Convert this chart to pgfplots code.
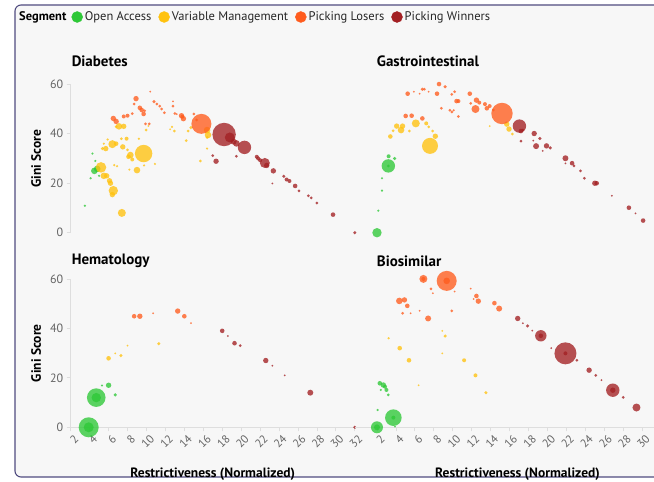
\documentclass[border=0pt]{standalone}
\usepackage{pgfplots}
\pgfplotsset{compat=1.18}
\usepackage{fontspec}
\setmainfont{PT Sans}
\definecolor{cOA}{RGB}{46,200,55}
\definecolor{cVM}{RGB}{255,194,14}
\definecolor{cPL}{RGB}{255,92,30}
\definecolor{cPW}{RGB}{163,32,35}
\definecolor{bgc}{RGB}{247,247,247}
\definecolor{framec}{RGB}{80,76,128}
\definecolor{axc}{RGB}{222,222,222}
\definecolor{tlc}{RGB}{100,100,100}
\pgfplotsset{
 bub/.style={scatter, only marks, mark=*, forget plot,
   scatter/use mapped color={draw=#1, fill=#1},
   fill opacity=0.78, draw opacity=0,
   visualization depends on={\thisrow{r}\as\rr},
   scatter/@pre marker code/.append style={/tikz/mark size=\rr}},
 panel/.style={scale only axis, height=148.4pt, ymin=0, ymax=60, clip=false,
   ytick={0,20,40,60}, tick align=outside, major tick length=4pt,
   axis line style={draw=axc, line width=0.8pt},
   every tick/.style={draw=axc, line width=0.8pt},
   ticklabel style={font=\fontsize{12}{14}\selectfont, text=tlc},
   /pgf/number format/assume math mode=true,
   title style={anchor=west, inner sep=0pt, font=\bfseries\fontsize{15}{18}\selectfont},
   xlabel={Restrictiveness (Normalized)}, ylabel={Gini Score},
   label style={font=\bfseries\fontsize{13.5}{16}\selectfont},
   xticklabel style={rotate=45, anchor=east, xshift=3.5pt, yshift=-8pt, font=\fontsize{11.5}{13}\selectfont},
   xtick={2,4,...,32}},
 leftp/.style={panel, width=284.1pt, xmin=2, xmax=32, axis y line*=left,
   ylabel style={at={(axis description cs:-0.122,0.5)}, anchor=center, rotate=0},
   xlabel style={at={(axis description cs:0.5,-0.318)}, anchor=center}},
 rightp/.style={panel, width=305.9pt, xmin=-0.3, xmax=32, hide y axis, xtick={2,4,...,30},
   xlabel style={at={(axis description cs:0.5306,-0.318)}, anchor=center}},
}
\begin{document}
\begin{tikzpicture}
\useasboundingbox (0,0) rectangle (654pt,482pt);
\fill[white] (0,0) rectangle (654pt,482pt);
\draw[framec, line width=1.1pt, fill=bgc, rounded corners=6pt] (15pt,5pt) rectangle (700pt,477pt);
\node[anchor=west, inner sep=0pt, font=\bfseries\fontsize{12.5}{15}\selectfont] at (19pt,465pt) {Segment};

% ---------------- Diabetes ----------------
\begin{axis}[leftp, hide x axis, at={(70.7pt,249.3pt)}, anchor=south west,
  title={Diabetes}, title style={at={(axis description cs:0.003,1.113)}},
  legend columns=4,
  legend style={at={(axis description cs:0.002,1.4535)}, anchor=west, draw=none, fill=none,
    inner sep=0pt, font=\fontsize{12.5}{15}\selectfont, text=black!85,
    /tikz/every even column/.append style={column sep=5pt}},
  legend cell align=left]
\addplot[bub=cOA] table {
x y r
3.5 10.9 1.2
4.3 32 1.2
4.6 29 1.2
4.1 22 1.2
4.5 25 3.3
4.8 25.8 3.3
5.0 23 1.2
};
\addplot[bub=cVM] table {
x y r
5.2 26.4 5.3
5.5 23 3.3
5.8 23 2.7
6.1 21 2.7
6.2 20 2.7
6.5 17 4.7
6.4 15.4 2.7
7.4 8 4
9.0 25.3 3.3
9.7 32 8.7
8.3 31.4 3.3
8.1 30.7 2.3
8.5 29.6 2
7.5 34.7 2.7
8.0 33.5 1.5
7.9 38 2
7.35 38 1.5
6.4 35.8 4
6.8 36 2.3
5.7 34 2.7
5.35 34 1.7
5.9 37.7 1.2
5.5 36 1.2
7.1 43 3.3
7.6 43 2.7
6.8 42.8 1.5
6.6 27.3 1.2
6.9 26.9 1.2
8.2 25.5 1.2
9.2 38 1.2
9.75 27.2 1.2
10.9 27.8 1.2
15.7 29 1.5
14.2 37.2 1.5
14.4 41.1 1.5
14.7 42.5 1.7
16.4 41.5 3.3
16.5 39.5 3.3
16.4 38.5 1.5
16.4 34 1.2
12.7 42.8 1.2
12.95 41.1 1.5
12.5 41.8 1.0
9.96 41.5 1.5
10.2 43.1 1.0
};
\addplot[bub=cPL] table {
x y r
6.5 46.2 2.7
6.8 45 2.7
7.6 47 2
8.0 47.3 2
8.5 48.1 1.5
8.9 54.2 2.7
8.7 52 1.5
9.3 50.5 2.3
9.5 49.6 2.3
9.7 48 2.3
9.8 49.3 1.5
9.9 44 1.5
10.3 44 1.5
10.4 57 1.0
10.8 53 1.7
11.1 52 1.5
11.4 51.2 1.5
11.6 50 1.5
11.9 48.5 1.5
12.8 53.1 1.0
12.8 51.2 1.5
13.0 48.2 1.5
13.2 47.9 1.0
13.7 47.3 2.7
13.9 46.1 2.7
13.8 46.9 2
15.0 48 1.5
15.3 45.6 1.5
15.8 44 10
};
\addplot[bub=cPW] table {
x y r
18.2 39.7 11.7
18.8 38.5 5
19.5 36.1 3.3
19.2 36.8 3
20.35 34.5 6.7
19.5 30.9 1.5
17.0 31.2 1.5
17.35 28.9 2.7
21.65 30.7 2
21.8 30 2
22.0 29.3 2
22.5 28.2 5
22.7 27.2 2.7
23.4 25 2.7
23.3 19.9 1.0
24.5 22.8 1.7
24.8 21.5 2
25.1 20.9 2
25.7 18.9 2.3
26.1 16.9 1.5
27.1 14.9 1.5
27.4 14.1 1.5
28.0 12 1.5
29.7 7.3 2.3
32 0 1.7
};
\addlegendimage{legend image code/.code={\fill[cOA] (0pt,0pt) circle (5.5pt);}}
\addlegendentry{Open Access}
\addlegendimage{legend image code/.code={\fill[cVM] (0pt,0pt) circle (5.5pt);}}
\addlegendentry{Variable Management}
\addlegendimage{legend image code/.code={\fill[cPL] (0pt,0pt) circle (5.5pt);}}
\addlegendentry{Picking Losers}
\addlegendimage{legend image code/.code={\fill[cPW] (0pt,0pt) circle (5.5pt);}}
\addlegendentry{Picking Winners}
\end{axis}

% ---------------- Gastrointestinal ----------------
\begin{axis}[rightp, hide x axis, at={(355.2pt,249.3pt)}, anchor=south west,
  title={Gastrointestinal}, title style={at={(axis description cs:0.0703,1.113)}}]
\addplot[bub=cOA] table {
x y r
2.0 0 4.7
2.14 8.9 1.2
2.53 17 1.2
2.53 22 1.2
3.2 27 6.7
3.2 27 1.5
3.23 30.9 2
3.87 30 1.7
};
\addplot[bub=cVM] table {
x y r
3.41 38.9 2.3
3.7 41.2 1.5
4.08 43.1 2.7
4.54 41.5 3.3
4.7 43.1 2.7
5.42 41.1 1.5
6.1 44.2 4
7.2 44.2 2
7.46 42.8 1.5
7.88 41.1 1.5
8.16 39 2.7
7.6 35.1 8
13.9 43.1 1.0
15.7 43.9 2.7
15.94 41.9 2.7
16.3 39.9 1.5
};
\addplot[bub=cPL] table {
x y r
5.03 47.2 2.3
5.66 47.3 2.3
6.79 46.2 2.3
5.24 56.2 2.3
5.9 57 1.0
6.5 56.2 1.0
6.8 58 1.7
7.0 58 1.5
7.46 57 1.0
8.34 56.2 2.3
8.55 60.1 2.3
9.2 59 1.7
9.9 55.9 1.5
10.2 57 1.5
8.8 50.3 1.5
9.7 49.5 1.5
9.9 48.8 1.5
10.1 49.5 1.2
10.6 47 1.5
10.4 53.2 2.3
10.6 53.2 2
11.8 56.2 2.3
12.5 53.6 2.7
12.8 52.6 2
11.9 52.3 1.5
12.4 50 4
13.4 52 2
13.6 50.3 2.3
13.9 51.2 2
14.3 49.6 1.5
15.2 48.2 10.7
};
\addplot[bub=cPW] table {
x y r
17.04 43.1 6.7
17.2 41.1 2.3
17.4 41.5 1.5
17.2 37 1.5
18.6 40.1 2.7
18.5 37.2 1.0
19.2 38.1 1.7
18.8 35 3
19.5 33.1 1.0
19.9 35.1 2.7
20.3 34.3 1.7
21.9 30.1 3
21.9 28 1.0
22.6 28.1 2.3
22.8 27 1.5
23.5 25 1.5
23.9 22 1.5
25.0 20 2.7
25.2 20 2.3
26.8 14.9 1.0
28.6 10.1 2.3
29.3 7.8 1.0
30.1 4.9 2.3
};
\end{axis}

% ---------------- Hematology ----------------
\begin{axis}[leftp, axis x line*=bottom, at={(70.7pt,54.7pt)}, anchor=south west,
  title={Hematology}, title style={at={(axis description cs:0.003,1.080)}}]
\addplot[bub=cOA] table {
x y r
3.9 0 10
3.9 0 5
4.7 12 9.3
4.7 12 4.7
5.3 16.9 1.2
6.0 17 2.7
6.7 13.1 1.7
};
\addplot[bub=cVM] table {
x y r
6.0 27.9 2.3
6.7 29.9 1.0
7.3 29 1.7
8.0 33 1.0
11.3 33.8 1.7
};
\addplot[bub=cPL] table {
x y r
8.7 44.9 2.3
9.3 44.9 2.7
10.7 46.1 1.0
13.3 47 2.7
14.0 44.9 2.3
14.7 42.1 1.0
};
\addplot[bub=cPW] table {
x y r
18.0 39 2.3
18.6 36.9 1.0
19.3 34 2.3
19.9 33 1.5
22.6 27 2.7
23.3 24.9 1.0
24.6 21 1.0
27.3 14 3
32 0 1.7
};
\end{axis}

% ---------------- Biosimilar ----------------
\begin{axis}[rightp, axis x line*=bottom, at={(355.2pt,54.7pt)}, anchor=south west,
  title={Biosimilar}, title style={at={(axis description cs:0.0703,1.080)}}]
\addplot[bub=cOA] table {
x y r
2.0 0 6
2.0 0 3
3.73 3.9 8.3
3.73 3.9 2
3.9 0.3 1.0
2.07 7 1.2
2.3 17.8 2.3
2.67 17.1 2.7
2.85 16.4 2
3.0 15.1 2
2.4 15.1 1.2
3.2 13.1 1.5
};
\addplot[bub=cVM] table {
x y r
3.23 36 1.2
4.4 32 2.3
5.38 27.1 2.3
6.4 17 1.0
8.9 39 1.0
9.2 36.9 1.7
8.9 29.9 1.0
11.2 27.1 2
12.4 21 2
13.5 14 1.7
};
\addplot[bub=cPL] table {
x y r
6.9 60 4
6.9 60 2
9.36 59.2 10
9.36 59.2 3.3
7.7 56 1.5
7.9 54.2 1.0
10.2 54.9 1.0
11.9 56.1 1.0
12.5 53.1 2.3
12.7 51 2.7
12.2 51.9 1.0
4.36 51.1 3.3
4.9 51.5 2.7
5.2 49.1 2.3
4.7 46.1 1.5
5.56 46.1 1.0
6.5 47.1 1.0
7.4 44 3
9.9 47.1 1.5
14.4 50.2 2.3
14.9 48 3
};
\addplot[bub=cPW] table {
x y r
16.86 44 2.7
17.4 42.1 1.0
17.9 41 1.7
18.4 39.1 1.0
19.3 37 5.7
19.3 37 2.3
20.4 32 1.0
21.9 29.9 11
21.9 29.9 2
23.1 27.1 1.5
24.4 23.1 2.7
25.1 21 1.5
25.7 19.1 1.0
26.9 15 6.7
26.9 15 2.7
28.0 12.1 1.5
29.4 8 4
};
\end{axis}
\end{tikzpicture}
\end{document}
